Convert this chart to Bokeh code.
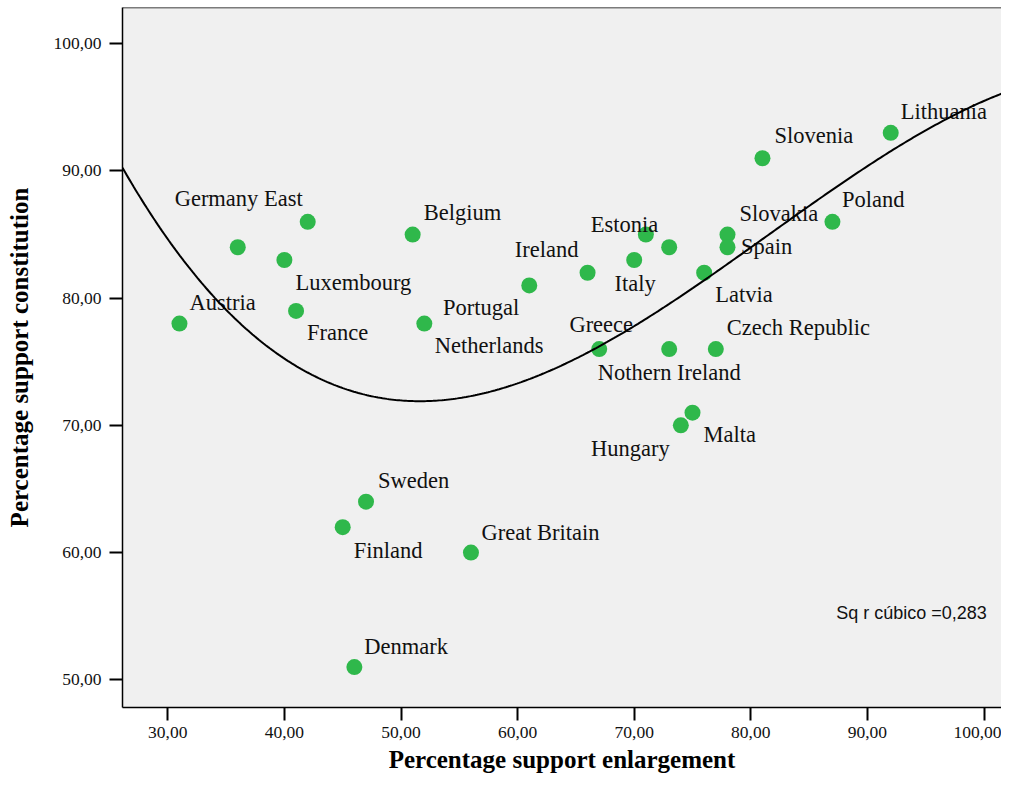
import numpy as np
from bokeh.plotting import figure
from bokeh.models import FixedTicker, CustomJSTickFormatter, ColumnDataSource, Label, Span
from bokeh.core.properties import value
from bokeh.embed import file_html
from bokeh.resources import INLINE

# ---- data ----
countries = ["Austria", "Germany East", "Luxembourg", "France", "Belgium",
             "Netherlands", "Portugal", "Ireland", "Estonia", "Italy",
             "Greece", "Nothern Ireland", "Czech Republic", "Latvia", "Slovakia",
             "Spain", "Poland", "Slovenia", "Lithuania", "Malta",
             "Hungary", "Sweden", "Finland", "Great Britain", "Denmark",
             "", ""]
enlargement = [31, 42, 40, 41, 51,
               52, 61, 66, 73, 70,
               67, 73, 77, 76, 78,
               78, 87, 81, 92, 75,
               74, 47, 45, 56, 46,
               36, 71]
constitution = [78, 86, 83, 79, 85,
                78, 81, 82, 84, 83,
                76, 76, 76, 82, 85,
                84, 86, 91, 93, 71,
                70, 64, 62, 60, 51,
                84, 85]
x_ticks = [30, 40, 50, 60, 70, 80, 90, 100]
y_ticks = [50, 60, 70, 80, 90, 100]
x_title = "Percentage support enlargement"
y_title = "Percentage support constitution"
fit_label = "Sq r cúbico =0,283"

# ---- label placement (layout only) ----
label_align = ["left", "right", "left", "left", "left",
               "left", "right", "right", "right", "center",
               "center", "center", "left", "left", "left",
               "left", "left", "left", "left", "left",
               "right", "left", "left", "left", "left",
               "left", "left"]
label_dx = [10, -5, 11, 11, 11,
            10.5, -10, -9, -11, 1,
            2, 0, 11, 11, 12,
            13.5, 9.5, 12, 10, 11,
            -11, 12, 11, 10.5, 10,
            0, 0]
_dy = [-13, -15, 30.5, 30, -14,
       30, 30.5, -15, -15, 32,
       -17, 31.4, -14, 30, -13.5,
       7, -14, -14.5, -13, 30,
       31, -13, 31, -12, -13,
       0, 0]
label_dy = [d - 8 for d in _dy]

X0, X1 = 26.115, 101.50
Y0, Y1 = 47.82, 102.85

p = figure(width=1001, height=777, x_range=(X0, X1), y_range=(Y0, Y1),
           output_backend="svg", toolbar_location=None,
           min_border_left=122, min_border_right=0, min_border_top=7,
           min_border_bottom=70,
           background_fill_color="#f0f0f0", border_fill_color="white",
           outline_line_color=None)
p.grid.visible = False

fmt = CustomJSTickFormatter(code="return tick.toFixed(2).replace('.', ',');")
for ax, ticks in ((p.xaxis[0], x_ticks), (p.yaxis[0], y_ticks)):
    ax.ticker = FixedTicker(ticks=ticks)
    ax.formatter = fmt
    ax.axis_line_color = "black"
    ax.axis_line_width = 1.5
    ax.major_tick_line_color = "black"
    ax.major_tick_line_width = 2
    ax.major_tick_in = 0
    ax.major_tick_out = 13
    ax.minor_tick_line_color = None
    ax.major_label_text_font = "Liberation Serif"
    ax.major_label_text_font_size = "17.5px"
    ax.major_label_text_color = "#111111"
    ax.axis_label_text_font = "Liberation Serif"
    ax.axis_label_text_font_style = "bold"
    ax.axis_label_text_font_size = "25px"
    ax.axis_label_text_color = "black"

p.xaxis.axis_label = x_title
p.yaxis.axis_label = y_title
p.xaxis.major_label_standoff = 6
p.xaxis.axis_label_standoff = 5
p.yaxis.major_label_standoff = 8
p.yaxis.axis_label_standoff = 17

p.add_layout(Span(location=Y1, dimension="width", line_color="black", line_width=1.5))

src = ColumnDataSource(dict(x=enlargement, y=constitution, label=countries,
                            align=label_align, dx=label_dx, dy=label_dy))

p.scatter("x", "y", source=src, size=16, fill_color="#2fb84b", line_color=None)
p.text("x", "y", text="label", source=src, x_offset="dx", y_offset="dy",
       text_align="align", text_baseline="alphabetic",
       text_font=value("Liberation Serif"), text_font_size="22.5px",
       text_color="#111111")

# cubic fit through the data
coefs = np.polyfit(enlargement, constitution, 3)
xs = np.linspace(X0, X1, 400)
ys = np.polyval(coefs, xs)
p.line(xs, ys, line_color="black", line_width=2)

p.add_layout(Label(x=87.32, y=55.24, text=fit_label, text_baseline="middle",
                   text_font="Liberation Sans", text_font_size="18px",
                   text_color="#111111"))

open("out.html", "w").write(file_html(p, INLINE))
